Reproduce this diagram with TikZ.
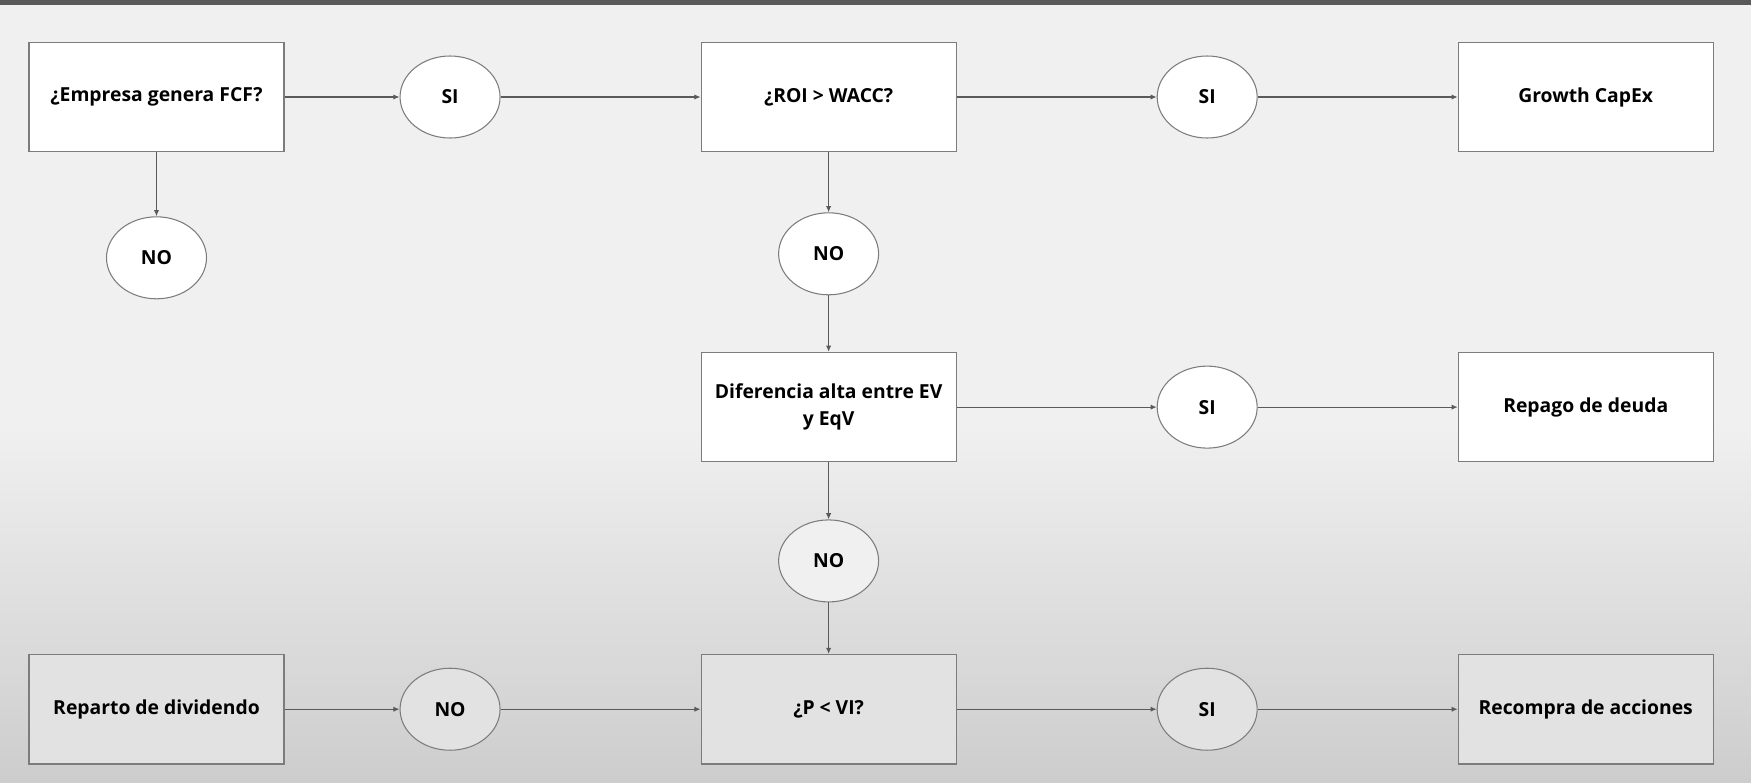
\documentclass[tikz,border=0pt]{standalone}
\usepackage{fontspec}
\setmainfont{Open Sans}
\usetikzlibrary{positioning, arrows.meta, shapes.geometric}

\definecolor{boardtop}{HTML}{F0F0F0}
\definecolor{boardbot}{HTML}{CDCDCD}
\definecolor{shapeline}{HTML}{7C7C7C}
\definecolor{arrowline}{HTML}{5A5A5A}
\definecolor{lowfill}{HTML}{E2E2E2}
\definecolor{midfill}{HTML}{F0F0F0}

\begin{document}
\begin{tikzpicture}[
    node distance=1.2cm and 4cm,
    every node/.style={font=\fontsize{11}{15.5}\selectfont\bfseries, align=center},
    question/.style={draw=shapeline, fill=white, rectangle, line width=0.6pt, minimum width=5.1cm, minimum height=2.19cm},
    answer/.style={draw=shapeline, fill=white, ellipse, line width=0.6pt, inner sep=0pt, minimum width=2cm, minimum height=1.64cm},
    every edge/.style={draw=arrowline, line width=0.6pt, -{Latex[length=3.5pt, width=3pt]}}
]
% board
\fill[boardtop] (0,0) rectangle (35.02,-8.5);
\shade[top color=boardtop, bottom color=boardbot] (0,-8.5) rectangle (35.02,-15.64);
\fill[black!65] (0,0) rectangle (35.02,-0.1);
\useasboundingbox (0,0) rectangle (35.02,-15.64);

\node[question] (fcf) at (3.13,-1.94) {¿Empresa genera FCF?};
\node[answer, right=2.3cm of fcf] (si1) {SI};
\node[question, right=of si1] (roi) {¿ROI > WACC?};
\node[answer, right=of roi] (si2) {SI};
\node[question, right=of si2] (capex) {Growth CapEx};
\node[answer, below=1.28cm of fcf] (no1) {NO};
\node[answer, below=of roi] (no2) {NO};
\node[question, below=1.13cm of no2] (dif) {Diferencia alta entre EV\\y EqV};
\node[answer, right=of dif] (si3) {SI};
\node[question, right=of si3] (deuda) {Repago de deuda};
\node[answer, below=1.14cm of dif, fill=midfill] (no3) {NO};
\node[question, below=1.03cm of no3, fill=lowfill] (pvi) {¿P < VI?};
\node[answer, right=of pvi, fill=lowfill] (si4) {SI};
\node[question, right=of si4, fill=lowfill] (recompra) {Recompra de acciones};
\node[answer, left=of pvi, fill=lowfill] (no4) {NO};
\node[question, left=2.3cm of no4, fill=lowfill] (dividendo) {Reparto de dividendo};

\path
 (fcf) edge (si1)
 (si1) edge (roi)
 (roi) edge (si2)
 (si2) edge (capex)
 (fcf) edge (no1)
 (roi) edge (no2)
 (no2) edge (dif)
 (dif) edge (si3)
 (si3) edge (deuda)
 (dif) edge (no3)
 (no3) edge (pvi)
 (dividendo) edge (no4)
 (no4) edge (pvi)
 (pvi) edge (si4)
 (si4) edge (recompra);
\end{tikzpicture}
\end{document}
